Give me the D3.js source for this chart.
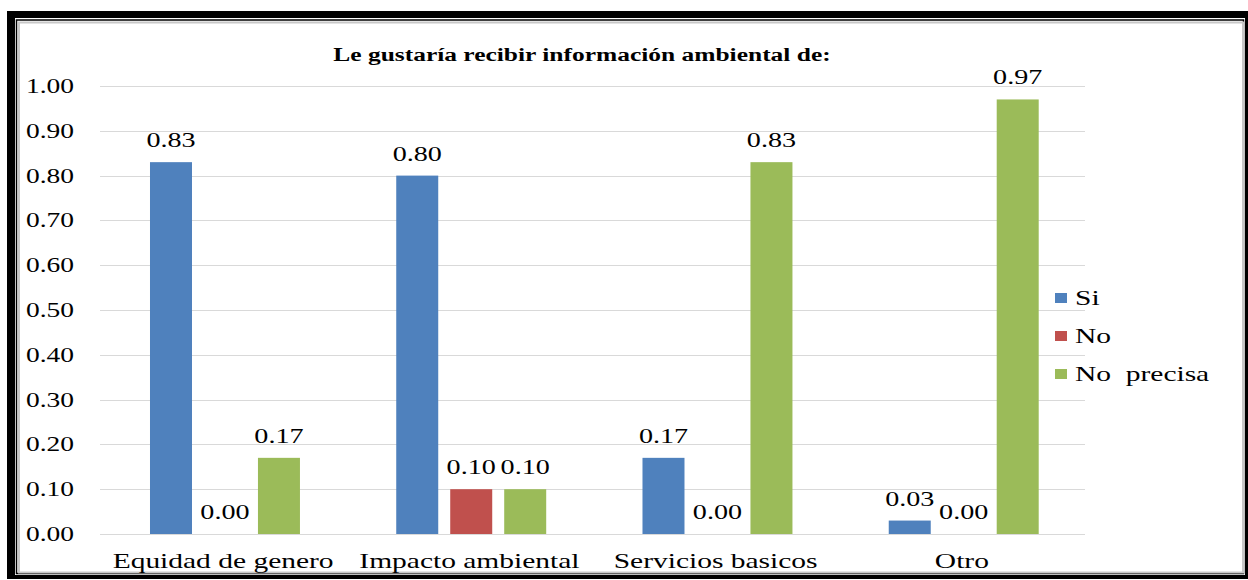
<!DOCTYPE html>
<meta charset="utf-8">
<title>Informacion ambiental</title>
<style>
body { margin: 0; background: #fff; }
</style>
<svg></svg>
<script src="https://cdn.jsdelivr.net/npm/d3@7"></script>
<script>
var categories = ["Equidad de genero", "Impacto ambiental", "Servicios basicos", "Otro"];
var seriesNames = ["Si", "No", "No  precisa"];
var si = [0.83, 0.80, 0.17, 0.03];
var no = [0.00, 0.10, 0.00, 0.00];
var noPrecisa = [0.17, 0.10, 0.83, 0.97];
var yTicks = [0, 0.1, 0.2, 0.3, 0.4, 0.5, 0.6, 0.7, 0.8, 0.9, 1.0];
var colors = ["#4f81bd", "#c0504d", "#9bbb59"];
var title = "Le gustaría recibir información ambiental de:";

var width = 1248, height = 580;
var sx = 1.34; // text looks stretched sideways in the original picture
var font = "'Liberation Serif', 'Times New Roman', 'DejaVu Serif', serif";

var svg = d3.select("svg")
    .attr("width", width)
    .attr("height", height);

// frame
svg.append("rect")
    .attr("x", 7).attr("y", 11)
    .attr("width", width - 7).attr("height", 568)
    .style("fill", "#000");
svg.append("rect")
    .attr("x", 15).attr("y", 18)
    .attr("width", 1230).attr("height", 557)
    .style("fill", "#fff");
svg.append("rect")
    .attr("x", 16.5).attr("y", 20)
    .attr("width", 1227).attr("height", 553.5)
    .style("fill", "none")
    .style("stroke", "#000")
    .style("stroke-width", 1.5);
svg.append("rect")
    .attr("x", 19).attr("y", 22.5)
    .attr("width", 1224).attr("height", 550)
    .style("fill", "none")
    .style("stroke", "#c8c8c8")
    .style("stroke-width", 2);

// stretched text helper
function label(g, x, y, str, size, anchor, bold) {
  return g.append("text")
      .attr("transform", "translate(" + x + "," + y + ") scale(" + sx + ",1)")
      .attr("text-anchor", anchor)
      .attr("font-family", font)
      .style("font-family", font)
      .style("font-size", size + "px")
      .style("font-weight", bold ? "bold" : "normal")
      .style("fill", "#000")
      .text(str);
}

var x = d3.scaleBand()
    .domain(categories)
    .range([100, 1085]);
var y = d3.scaleLinear()
    .domain([0, 1])
    .range([534, 86]);

var sub = d3.scaleBand()
    .domain(d3.range(seriesNames.length))
    .range([x.bandwidth() * 0.203, x.bandwidth() * 0.812])
    .paddingInner(0.222)
    .paddingOuter(0);

// grid lines
svg.append("g")
  .selectAll("line")
  .data(yTicks)
  .enter().append("line")
    .attr("x1", 100).attr("x2", 1085)
    .attr("y1", function(d) { return Math.round(y(d)) + 0.5; })
    .attr("y2", function(d) { return Math.round(y(d)) + 0.5; })
    .style("stroke", "#d9d9d9")
    .style("stroke-width", 1.2);

// y tick labels
var yAxis = svg.append("g");
yTicks.forEach(function(t) {
  label(yAxis, 26, y(t) + 7, d3.format(".2f")(t), 20.5, "start");
});

// bars
var series = [si, no, noPrecisa];
var bars = svg.append("g");
var labels = svg.append("g");
series.forEach(function(vals, s) {
  categories.forEach(function(c, i) {
    var bx = x(c) + sub(s);
    var v = vals[i];
    if (v > 0) {
      bars.append("rect")
          .attr("x", bx)
          .attr("y", y(v))
          .attr("width", sub.bandwidth())
          .attr("height", y(0) - y(v))
          .style("fill", colors[s]);
    }
    label(labels, bx + sub.bandwidth() / 2, Math.min(y(v) - 15, 528), d3.format(".2f")(v), 21, "middle");
  });
});

// category labels
var xAxis = svg.append("g");
categories.forEach(function(c) {
  label(xAxis, x(c) + x.bandwidth() / 2, 568, c, 22, "middle");
});

// title
label(svg, 582, 61, title, 19, "middle", true);

// legend
var legend = svg.append("g");
seriesNames.forEach(function(n, i) {
  var ly = 298 + i * 38;
  legend.append("rect")
      .attr("x", 1055).attr("y", ly - 5)
      .attr("width", 12).attr("height", 10)
      .style("fill", colors[i]);
  label(legend, 1075, ly + 7, n, 22, "start").style("white-space", "pre");
});
</script>
